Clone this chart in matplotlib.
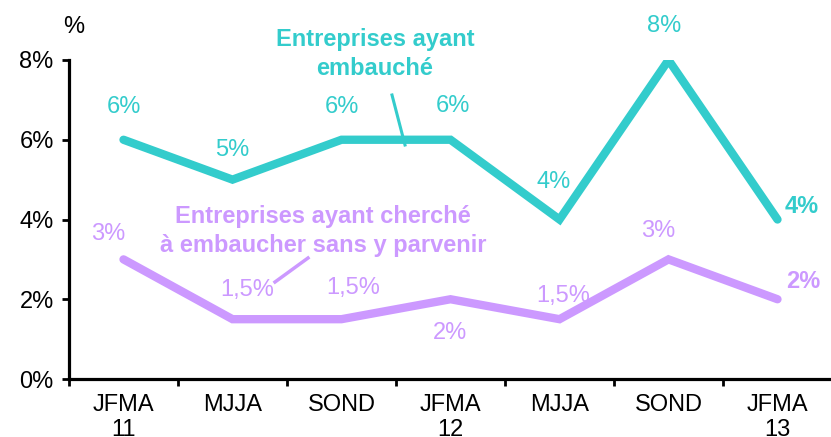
import matplotlib
matplotlib.use("Agg")
import matplotlib.pyplot as plt
from matplotlib.lines import Line2D

plt.rcParams['font.family'] = ['Liberation Sans', 'DejaVu Sans']

periods = ['JFMA\n11', 'MJJA', 'SOND', 'JFMA\n12', 'MJJA', 'SOND', 'JFMA\n13']
embauche = [6, 5, 6, 6, 4, 8, 4]
sans_succes = [3, 1.5, 1.5, 2, 1.5, 3, 2]
embauche_labels = ['6%', '5%', '6%', '6%', '4%', '8%', '4%']
sans_labels = ['3%', '1,5%', '1,5%', '2%', '1,5%', '3%', '2%']
yticks = [0, 2, 4, 6, 8]

teal = '#33CCCC'
purple = '#CC99FF'
W, H = 831, 437
fs = 17

fig = plt.figure(figsize=(W / 100, H / 100), dpi=100)
ax = fig.add_axes([69 / W, 58 / H, 1 - 69 / W, (379 - 60) / H])

x = list(range(len(periods)))
ax.plot(x, embauche, color=teal, lw=6, solid_capstyle='round', solid_joinstyle='miter')
ax.plot(x, sans_succes, color=purple, lw=6, solid_capstyle='round', solid_joinstyle='miter')

ax.set_xlim(-0.5, (W - 69) / 109 - 0.5)
ax.set_ylim(0, 8)

# label offsets in pixels (label centre relative to the point)
off_teal = [(0, 33), (0, 30), (0, 33), (2, 34), (-6, 37), (-4, 34), (24, 13)]
off_purple = [(-15, 25), (15, 29), (12, 31), (0, -34), (4, 23), (-10, 28), (26, 18)]
for i in x:
    bold = 'bold' if i == len(x) - 1 else 'normal'
    ax.annotate(embauche_labels[i], (i, embauche[i]), xytext=off_teal[i],
                textcoords='offset pixels', ha='center', va='center',
                color=teal, fontsize=fs, fontweight=bold, annotation_clip=False)
    ax.annotate(sans_labels[i], (i, sans_succes[i]), xytext=off_purple[i],
                textcoords='offset pixels', ha='center', va='center',
                color=purple, fontsize=fs, fontweight=bold, annotation_clip=False)

for s in ['top', 'right']:
    ax.spines[s].set_visible(False)
for s in ['left', 'bottom']:
    ax.spines[s].set_linewidth(2.3)

ax.set_yticks(yticks)
ax.set_yticklabels([f'{v}%' for v in yticks], fontsize=fs)
ax.tick_params(axis='y', length=5, width=2, pad=6)

ax.set_xticks(x)
ax.set_xticklabels(periods, fontsize=fs, linespacing=1.15)
ax.tick_params(axis='x', which='major', length=0, pad=11)
ax.set_xticks([i - 0.5 for i in x], minor=True)
ax.tick_params(axis='x', which='minor', length=5, width=2)

fig.text(74 / W, 1 - 27 / H, '%', fontsize=fs, ha='center', va='center')

fig.text(375 / W, 1 - 54 / H, 'Entreprises ayant\nembauché', color=teal, fontsize=fs,
         fontweight='bold', ha='center', va='center', linespacing=1.3)
fig.text(323 / W, 1 - 231 / H, 'Entreprises ayant cherché\nà embaucher sans y parvenir',
         color=purple, fontsize=fs, fontweight='bold', ha='center', va='center', linespacing=1.3)

fig.add_artist(Line2D([392 / W, 405 / W], [1 - 95 / H, 1 - 145 / H], color=teal, lw=2.2))
fig.add_artist(Line2D([308 / W, 275 / W], [1 - 258 / H, 1 - 282 / H], color=purple, lw=2.5))

fig.savefig('out.png', dpi=100)
